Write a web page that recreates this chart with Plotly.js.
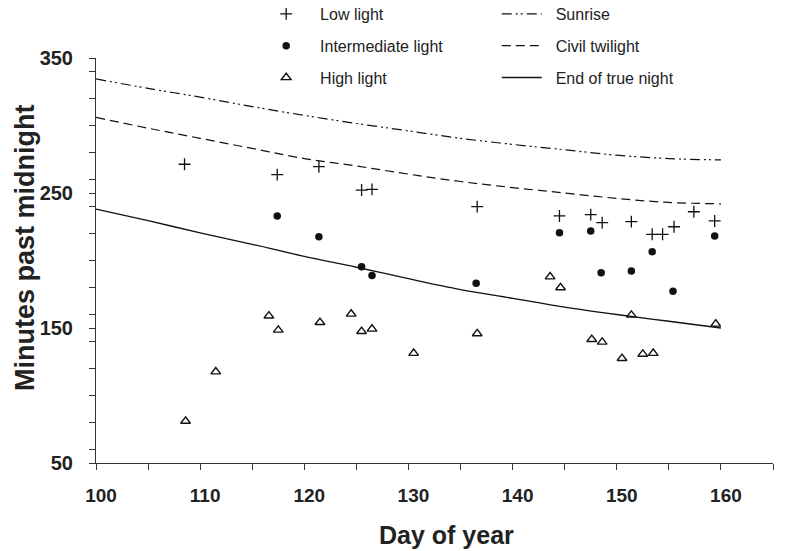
<!DOCTYPE html>
<html>
<head>
<meta charset="utf-8">
<script src="https://cdn.plot.ly/plotly-3.0.1.min.js"></script>
<style>html,body{margin:0;padding:0;background:#fff;}#chart{width:787px;height:551px;}</style>
</head>
<body>
<div id="chart"></div>
<script>
// Reference lines (minutes past midnight) by day of year
const lineDays = [100,105,110,115,120,125,130,135,140,145,150,155,160];
const sunrise = [334.5,327.5,321,314,307.5,301.5,296,290.5,286,282,278,275.5,274.5];
const civilTwilight = [306,298,290.5,283,275.5,270,264,258.5,254,250,246,243,242];
const endTrueNight = [238,229.5,220.5,212,203,195,186.5,178.5,172,165.5,160,155,150];

// Observations
const lowDays = [108.5,117.4,121.4,125.5,126.5,136.6,144.5,147.5,148.6,151.4,153.4,154.4,155.5,157.4,159.4];
const lowVals = [271.3,263.6,269.5,252.2,252.7,239.9,233,234,228,228.8,219.4,219.4,225,236.1,229.3];

const midDays = [117.4,121.4,125.5,126.5,136.5,144.5,147.5,148.5,151.4,153.4,155.4,159.4];
const midVals = [233,217.6,195.4,188.8,183.1,220.6,221.9,191,192.2,206.5,177.2,218.1];

const highDays = [108.6,111.5,116.6,117.5,121.5,124.5,125.5,126.5,130.5,136.6,143.6,144.6,147.6,148.6,150.5,151.4,152.5,153.5,159.5];
const highVals = [81,117.6,159,148.5,154.2,160.4,147.5,149.3,131.3,145.8,188,179.9,141.6,139.6,127.5,159.6,130.7,131.3,153];

const FONT = 'Liberation Sans, Arial, sans-serif';
const SP = '\u00a0\u00a0';

const traces = [
  {x: lowDays, y: lowVals, name: SP + 'Low light', mode: 'markers', type: 'scatter',
   marker: {symbol: 'cross-thin', size: 8.5, color: '#111', line: {width: 1.3, color: '#111'}},
   legend: 'legend', legendgroup: 'a'},
  {x: midDays, y: midVals, name: SP + 'Intermediate light', mode: 'markers', type: 'scatter',
   marker: {symbol: 'circle', size: 7.5, color: '#111'},
   legend: 'legend', legendgroup: 'b'},
  {x: highDays, y: highVals, name: SP + 'High light', mode: 'markers', type: 'scatter',
   marker: {symbol: 'triangle-up-open', size: 8.5, color: '#111', line: {width: 1.4, color: '#111'}},
   legend: 'legend', legendgroup: 'c'},
  {x: lineDays, y: sunrise, name: SP + 'Sunrise', mode: 'lines', type: 'scatter', line: {shape: 'spline', color: '#111', width: 1.2, dash: '10px,4px,2px,3px,2px,4px'},
   legend: 'legend2', legendgroup: 'd'},
  {x: lineDays, y: civilTwilight, name: SP + 'Civil twilight', mode: 'lines', type: 'scatter', line: {shape: 'spline', color: '#111', width: 1.2, dash: '9px,5px'},
   legend: 'legend2', legendgroup: 'e'},
  {x: lineDays, y: endTrueNight, name: SP + 'End of true night', mode: 'lines', type: 'scatter', line: {shape: 'spline', color: '#111', width: 1.3},
   legend: 'legend2', legendgroup: 'f'}
];

const legendCommon = {
  font: {family: FONT, size: 16, color: '#222'},
  bgcolor: 'rgba(0,0,0,0)', borderwidth: 0,
  traceorder: 'grouped', tracegroupgap: 8,
  xanchor: 'left', yanchor: 'middle', yref: 'paper', xref: 'paper', itemwidth: 40
};

const layout = {
  width: 787, height: 551,
  margin: {l: 96, r: 14, t: 58, b: 88, autoexpand: false},
  paper_bgcolor: '#fff', plot_bgcolor: '#fff',
  font: {family: FONT, color: '#222'},
  showlegend: true,
  legend: Object.assign({}, legendCommon, {x: 0.244, y: (463 - 46) / 405}),
  legend2: Object.assign({}, legendCommon, {x: 0.592, y: (463 - 46) / 405}),
  xaxis: {
    range: [100, 165], dtick: 10, tick0: 100,
    showgrid: false, zeroline: false, showline: true, linecolor: '#333', linewidth: 1,
    ticks: 'outside', ticklen: 6, tickcolor: '#333',
    minor: {dtick: 5, ticks: 'outside', ticklen: 6, tickcolor: '#333'},
    tickfont: {family: FONT, size: 19, color: '#222', weight: 'bold'},
    ticklabelstandoff: 9, ticklabelshift: 5
  },
  yaxis: {
    range: [50, 350], dtick: 100, tick0: 50,
    showgrid: false, zeroline: false, showline: true, linecolor: '#333', linewidth: 1,
    ticks: 'outside', ticklen: 6, tickcolor: '#333',
    minor: {dtick: 20, ticks: 'outside', ticklen: 6, tickcolor: '#333'},
    tickfont: {family: FONT, size: 20, color: '#222', weight: 'bold'},
    ticklabelstandoff: 12
  },
  annotations: [
    {text: '<b>Day of year</b>', xref: 'paper', yref: 'paper', x: (446 - 96) / 677, y: (463 - 535) / 405,
     xanchor: 'center', yanchor: 'middle', showarrow: false, font: {family: FONT, size: 25, color: '#222'}},
    {text: '<b>Minutes past midnight</b>', xref: 'paper', yref: 'paper', x: (25 - 96) / 677, y: (463 - 248) / 405,
     xanchor: 'center', yanchor: 'middle', textangle: -90, showarrow: false, font: {family: FONT, size: 27, color: '#222'}}
  ]
};

Plotly.newPlot('chart', traces, layout, {displayModeBar: false, staticPlot: true});
</script>
</body>
</html>
